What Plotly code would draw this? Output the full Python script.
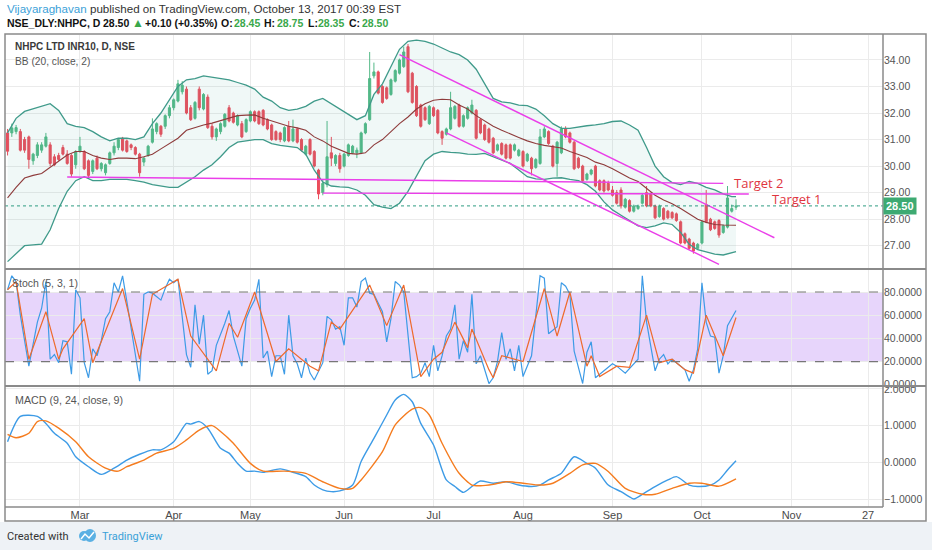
import plotly.graph_objects as go

# ---- data (x = trading-day index, 0 = 1 Mar 2017) ----
opens = [31.25, 31.25, 31.3, 31.3, 31.0, 31.1, 30.2, 30.4, 30.6, 30.75, 30.8, 30.35, 30.4, 30.7, 30.45, 30.4, 30.05,
         30.55, 30.55, 30.2, 29.8, 30.3, 29.9, 29.75, 30.1, 30.5, 30.7, 31.05, 30.95, 30.8, 30.7, 30.45, 30.15, 30.4,
         30.9, 31.3, 31.5, 31.5, 31.9, 32.2, 32.45, 32.8, 32.9, 32.2, 31.8, 32.9, 32.15, 32.6, 31.5, 31.1, 31.3, 31.5,
         32.2, 32.0, 31.55, 31.6, 31.3, 31.7, 32.05, 32.05, 32.1, 31.75, 31.55, 31.3, 31.25, 30.95, 31.5, 30.95, 31.4,
         31.0, 30.45, 31.0, 30.55, 29.85, 29.0, 29.3, 30.5, 30.1, 30.4, 30.0, 30.4, 30.5, 30.5, 30.5, 31.25, 31.75,
         33.4, 33.55, 33.0, 32.95, 32.7, 33.2, 33.5, 33.75, 34.5, 33.5, 33.0, 32.3, 32.2, 31.6, 32.2, 32.1, 31.3, 31.2,
         31.4, 31.8, 32.3, 31.5, 31.8, 32.0, 32.1, 31.75, 31.55, 31.4, 31.05, 30.6, 30.85, 30.8, 30.8, 30.6, 30.4,
         30.55, 30.2, 30.3, 29.95, 30.1, 31.1, 31.3, 30.75, 30.1, 30.5, 31.4, 31.25, 30.9, 30.3, 30.0, 29.5, 29.7,
         30.0, 29.45, 29.45, 29.35, 29.1, 29.0, 29.1, 28.45, 28.7, 28.3, 28.4, 28.6, 29.0, 28.95, 28.5, 28.1, 28.4,
         28.3, 28.25, 28.2, 27.9, 27.45, 27.25, 27.1, 26.9, 27.1, 28.55, 28.0, 27.9, 27.95, 27.5, 27.7, 28.3, 28.45]
highs = [31.4, 31.6, 31.55, 31.4, 31.1, 31.15, 30.5, 30.9, 30.9, 31.25, 30.9, 30.45, 30.5, 30.8, 30.6, 30.45, 30.6,
         31.1, 30.6, 30.25, 30.25, 30.4, 30.15, 30.1, 30.55, 30.9, 31.05, 31.1, 31.0, 30.85, 30.75, 30.5, 30.35, 30.8,
         31.8, 31.65, 31.55, 31.95, 32.3, 32.55, 33.25, 33.2, 33.0, 32.3, 32.45, 33.0, 32.75, 32.7, 31.6, 31.45, 31.65,
         32.0, 32.3, 32.05, 31.95, 31.7, 31.8, 32.1, 32.1, 32.1, 32.15, 31.8, 31.6, 31.35, 31.3, 31.5, 31.7, 31.75,
         31.45, 31.05, 30.8, 31.05, 30.6, 29.9, 29.5, 31.7, 31.1, 30.45, 30.5, 30.5, 30.85, 30.8, 30.7, 31.3, 31.65,
         34.3, 33.9, 33.6, 33.05, 33.0, 33.3, 33.65, 34.05, 34.5, 34.6, 33.55, 33.05, 32.35, 32.25, 32.3, 32.25, 32.15,
         31.35, 31.45, 32.8, 32.3, 32.35, 31.95, 32.25, 32.5, 32.15, 31.8, 31.6, 31.45, 31.1, 30.85, 30.9, 30.85,
         30.85, 30.85, 30.65, 30.6, 30.5, 30.35, 30.3, 31.4, 31.5, 31.35, 30.8, 30.95, 31.5, 31.5, 31.3, 30.95, 30.35,
         30.05, 29.75, 29.9, 30.05, 29.5, 29.5, 29.45, 29.25, 29.1, 29.2, 28.8, 28.75, 28.55, 28.55, 28.95, 29.25,
         29.0, 28.55, 28.55, 28.45, 28.35, 28.3, 28.25, 27.95, 27.5, 27.3, 27.15, 27.1, 27.95, 29.1, 28.05, 27.95,
         28.0, 27.8, 29.25, 28.55, 28.75]
lows = [30.4, 31.1, 31.2, 30.55, 30.5, 29.9, 30.05, 30.3, 30.5, 30.7, 30.0, 30.0, 30.2, 30.4, 30.05, 29.6, 29.9,
        30.5, 29.85, 29.55, 29.7, 29.85, 29.8, 29.65, 30.05, 30.4, 30.6, 30.55, 30.5, 30.6, 30.4, 29.6, 30.0, 30.35,
        30.85, 31.2, 31.1, 31.4, 31.8, 32.1, 32.4, 32.7, 31.95, 31.7, 31.75, 32.1, 32.1, 31.4, 31.0, 30.95, 31.2,
        31.45, 31.65, 31.6, 31.5, 31.05, 31.25, 31.65, 31.65, 31.55, 31.5, 31.35, 30.95, 30.95, 30.9, 30.9, 30.9,
        30.9, 30.85, 30.55, 30.4, 30.4, 29.95, 28.75, 28.9, 29.2, 30.0, 30.0, 29.75, 29.95, 30.35, 30.45, 30.3,
        30.45, 31.2, 31.7, 33.3, 32.7, 32.35, 32.5, 32.65, 33.15, 33.45, 33.7, 32.75, 32.35, 31.85, 31.45, 31.7,
        31.55, 31.85, 31.2, 30.8, 31.15, 31.35, 31.75, 31.45, 31.45, 31.75, 31.95, 31.0, 31.2, 30.95, 30.85, 30.45,
        30.55, 30.4, 30.25, 30.25, 30.55, 30.35, 29.95, 30.15, 29.65, 29.9, 30.05, 31.05, 30.8, 29.95, 29.6, 30.45,
        31.05, 30.85, 29.85, 29.9, 29.4, 29.45, 29.65, 29.2, 29.05, 29.0, 29.05, 28.85, 28.55, 28.4, 28.4, 28.25,
        28.25, 28.35, 28.55, 28.45, 28.45, 28.0, 28.05, 27.95, 28.0, 28.0, 27.9, 27.05, 27.05, 26.85, 26.7, 26.85,
        27.05, 27.85, 27.55, 27.6, 27.3, 27.45, 27.65, 28.25, 28.35]
closes = [30.56, 31.44, 31.45, 30.6, 30.6, 30.25, 30.45, 30.8, 30.8, 31.1, 30.1, 30.05, 30.25, 30.45, 30.1, 29.7,
          30.55, 30.75, 29.9, 29.65, 30.2, 29.9, 30.1, 30.05, 30.5, 30.75, 31.0, 30.6, 30.55, 30.7, 30.45, 29.75,
          30.3, 30.75, 31.4, 31.6, 31.2, 31.9, 32.2, 32.5, 33.1, 33.05, 32.0, 31.75, 32.4, 32.2, 32.7, 31.45, 31.1,
          31.4, 31.6, 31.95, 31.7, 31.65, 31.9, 31.1, 31.75, 32.05, 31.7, 31.6, 31.55, 31.4, 31.0, 31.0, 31.0, 31.45,
          30.95, 31.4, 30.9, 30.6, 30.75, 30.45, 30.0, 28.95, 29.35, 30.35, 30.3, 30.4, 29.9, 30.45, 30.8, 30.75,
          30.6, 31.25, 31.6, 33.3, 33.55, 32.75, 32.4, 32.55, 33.25, 33.6, 34.0, 34.3, 32.8, 32.4, 31.9, 31.5, 31.75,
          32.25, 31.9, 31.25, 31.05, 31.4, 32.2, 32.25, 31.5, 31.9, 32.2, 32.3, 31.05, 31.25, 31.0, 30.9, 30.5, 30.8,
          30.45, 30.3, 30.3, 30.8, 30.6, 30.0, 30.45, 29.9, 30.25, 31.1, 31.4, 30.85, 30.0, 30.9, 31.4, 31.1, 30.9,
          29.9, 29.95, 29.45, 29.7, 29.85, 29.25, 29.1, 29.06, 29.1, 28.9, 28.6, 28.5, 28.75, 28.3, 28.5, 28.5, 28.9,
          28.5, 28.5, 28.05, 28.5, 28.0, 28.05, 28.05, 27.95, 27.1, 27.1, 26.9, 26.8, 27.05, 27.9, 27.9, 27.6, 27.65,
          27.4, 27.75, 28.8, 28.4, 28.5]
bar_x = list(range(-17, -17 + len(closes)))

# Bollinger bands (20, close, 2)
bb_x = [-17, -15, -13, -11, -9, -7, -5, -3, -1, 1, 3, 5, 7, 9, 11, 13, 15, 17, 19, 21, 23, 25, 27, 29, 31, 33, 35,
        37, 39, 41, 43, 45, 47, 49, 51, 53, 55, 57, 59, 61, 63, 65, 67, 69, 71, 73, 75, 77, 79, 81, 83, 85, 87, 89,
        91, 93, 95, 97, 99, 101, 103, 105, 107, 109, 111, 113, 115, 117, 119, 121, 123, 125, 127, 129, 131, 133,
        135, 137, 139, 141, 143, 145, 147, 149, 151, 153, 154]
bb_upper = [31.25, 31.8, 32.06, 32.15, 32.25, 32.35, 32.1, 31.6, 31.5, 31.45, 31.3, 31.1, 30.95, 31.05, 31.05, 31.0,
            31.1, 31.6, 32.0, 32.5, 33.0, 33.25, 33.3, 33.4, 33.35, 33.3, 33.25, 33.15, 33.05, 32.9, 32.6, 32.45,
            32.2, 32.1, 32.15, 32.25, 32.45, 32.55, 32.35, 32.15, 31.95, 31.75, 31.9, 32.7, 33.1, 33.75, 34.4, 34.7,
            34.75, 34.7, 34.6, 34.45, 34.3, 34.2, 34.0, 33.65, 33.1, 32.55, 32.42, 32.38, 32.3, 32.28, 32.15, 31.9,
            31.6, 31.42, 31.42, 31.48, 31.52, 31.55, 31.6, 31.68, 31.7, 31.55, 31.35, 30.7, 30.0, 29.6, 29.38, 29.3,
            29.42, 29.35, 29.2, 29.1, 28.95, 28.85, 28.85]
bb_mid = [28.8, 29.2, 29.55, 29.65, 29.72, 29.95, 30.2, 30.42, 30.55, 30.55, 30.4, 30.3, 30.25, 30.3, 30.3, 30.28,
          30.35, 30.45, 30.65, 30.85, 31.05, 31.35, 31.45, 31.55, 31.62, 31.72, 31.82, 31.9, 31.92, 31.93, 31.8,
          31.7, 31.58, 31.5, 31.44, 31.35, 31.1, 30.95, 30.75, 30.6, 30.48, 30.45, 30.5, 30.8, 31.0, 31.3, 31.6,
          31.85, 32.15, 32.35, 32.48, 32.52, 32.5, 32.3, 32.15, 31.9, 31.7, 31.5, 31.35, 31.2, 31.08, 30.95, 30.85,
          30.78, 30.72, 30.68, 30.55, 30.42, 30.32, 30.15, 30.05, 29.9, 29.72, 29.55, 29.42, 29.15, 28.9, 28.72,
          28.58, 28.4, 28.2, 28.0, 27.88, 27.8, 27.78, 27.77, 27.77]
bb_lower = [26.4, 26.7, 27.0, 27.03, 27.06, 27.6, 28.4, 29.05, 29.45, 29.6, 29.45, 29.45, 29.5, 29.5, 29.5, 29.45,
            29.4, 29.3, 29.25, 29.2, 29.2, 29.4, 29.6, 29.85, 30.05, 30.35, 30.7, 30.9, 30.95, 31.0, 31.0, 30.85,
            30.78, 30.75, 30.7, 30.45, 29.85, 29.4, 29.25, 29.22, 29.2, 29.1, 28.9, 28.55, 28.45, 28.4, 28.6, 29.05,
            29.65, 30.2, 30.45, 30.55, 30.52, 30.5, 30.45, 30.44, 30.48, 30.35, 30.2, 30.1, 29.85, 29.6, 29.52, 29.5,
            29.55, 29.56, 29.5, 29.45, 29.3, 29.05, 28.65, 28.35, 28.15, 27.95, 27.75, 27.68, 27.75, 27.86, 27.8,
            27.5, 27.05, 26.85, 26.76, 26.68, 26.65, 26.75, 26.78]

# Stoch (5, 3, 1)
k_x = [-17, -16, -15, -14, -12, -10, -9, -8, -7, -6, -5, -4, -3, -2, -1, 0, 1, 2, 3, 4, 5, 6, 7, 8, 9, 10, 11, 12,
       14, 15, 16, 17, 19, 20, 21, 22, 23, 25, 26, 27, 28, 29, 30, 31, 32, 34, 35, 36, 38, 39, 40, 41, 42, 43, 44,
       45, 46, 47, 48, 49, 50, 51, 52, 53, 54, 55, 57, 58, 59, 60, 61, 62, 63, 64, 65, 66, 67, 68, 69, 71, 72, 73,
       74, 75, 76, 78, 79, 80, 81, 82, 83, 84, 85, 86, 87, 88, 89, 90, 91, 92, 93, 94, 96, 97, 98, 99, 100, 101,
       102, 103, 104, 106, 107, 108, 109, 110, 112, 113, 114, 115, 116, 118, 119, 120, 121, 122, 124, 125, 126,
       128, 131, 132, 133, 134, 135, 136, 137, 138, 139, 140, 142, 143, 144, 145, 146, 147, 148, 149, 150, 151,
       152, 154]
k_val = [82, 94, 89, 60, 16, 54, 66, 89, 22, 26, 19, 38, 37, 9, 82, 75, 19, 6, 31, 25, 38, 57, 63, 88, 80, 94, 72,
         48, 3, 78, 80, 79, 73, 83, 91, 88, 91, 26, 15, 69, 35, 60, 9, 12, 34, 53, 64, 42, 16, 57, 66, 73, 91, 23,
         29, 7, 25, 25, 9, 60, 25, 18, 6, 23, 10, 4, 19, 59, 56, 48, 50, 34, 75, 75, 67, 89, 92, 79, 78, 63, 37, 57,
         89, 86, 80, 6, 7, 10, 19, 7, 34, 12, 25, 42, 48, 69, 22, 38, 28, 78, 18, 25, 1, 6, 20, 45, 22, 31, 12, 34,
         7, 25, 60, 94, 92, 44, 50, 88, 85, 78, 29, 1, 28, 37, 6, 9, 15, 18, 16, 10, 22, 94, 54, 31, 12, 22, 26, 18,
         22, 19, 13, 3, 13, 31, 88, 54, 42, 41, 10, 25, 51, 64]
d_x = [-17, -15, -12, -8, -5, -4, 1, 3, 10, 14, 17, 23, 26, 32, 35, 37, 41, 46, 49, 54, 56, 59, 61, 68, 72, 76, 80,
       83, 85, 88, 91, 92, 96, 97, 99, 104, 109, 112, 115, 119, 120, 122, 126, 129, 133, 136, 139, 142, 144, 147,
       151, 154]
d_val = [82, 89, 22, 63, 22, 31, 57, 19, 83, 22, 78, 91, 42, 12, 53, 41, 80, 20, 31, 16, 12, 54, 48, 86, 51, 86, 7,
         22, 28, 54, 32, 48, 13, 6, 25, 20, 83, 42, 80, 16, 25, 7, 16, 15, 60, 19, 22, 13, 10, 60, 25, 58]

# MACD (9, 24, close, 9)
m_x = [-17, -14, -10, -8, -6, -3, -1, 2, 5, 8, 11, 14, 17, 19, 22, 25, 26, 28, 30, 33, 35, 37, 39, 41, 43, 47, 50,
       53, 55, 57, 59, 61, 64, 66, 69, 72, 74, 76, 78, 80, 83, 86, 88, 90, 92, 94, 97, 100, 103, 106, 108, 110,
       113, 116, 119, 121, 124, 127, 129, 130, 133, 135, 138, 140, 143, 145, 148, 150, 152, 154]
m_val = [0.56, 1.25, 1.25, 1.06, 0.79, 0.52, 0.15, -0.12, -0.33, -0.16, 0.06, 0.22, 0.34, 0.34, 0.56, 1.06, 1.04,
         1.11, 0.93, 0.38, 0.25, -0.03, -0.24, -0.24, -0.27, -0.18, -0.27, -0.39, -0.62, -0.75, -0.80, -0.78,
         -0.62, 0.02, 0.65, 1.29, 1.70, 1.85, 1.65, 1.06, 0.47, -0.48, -0.66, -0.82, -0.66, -0.51, -0.57, -0.53,
         -0.62, -0.66, -0.62, -0.48, -0.30, 0.15, -0.03, -0.16, -0.62, -0.80, -0.94, -1.0, -0.80, -0.66, -0.48,
         -0.39, -0.62, -0.66, -0.62, -0.48, -0.21, 0.04]
s_x = [-17, -15, -12, -10, -8, -5, -1, 2, 6, 9, 11, 15, 18, 22, 25, 28, 31, 33, 36, 40, 43, 48, 53, 57, 61, 64, 66,
       71, 74, 78, 80, 82, 85, 89, 92, 94, 97, 100, 104, 108, 111, 115, 118, 121, 124, 128, 132, 135, 139, 143,
       146, 150, 154]
s_val = [0.76, 0.67, 0.79, 1.11, 1.13, 0.93, 0.56, 0.15, -0.16, -0.24, -0.12, 0.06, 0.25, 0.38, 0.61, 0.88, 1.0,
         0.84, 0.52, -0.03, -0.24, -0.24, -0.30, -0.53, -0.71, -0.71, -0.48, 0.29, 1.02, 1.45, 1.49, 1.29, 0.52,
         -0.30, -0.62, -0.64, -0.60, -0.53, -0.57, -0.62, -0.57, -0.30, -0.07, -0.03, -0.25, -0.71, -0.87, -0.87,
         -0.71, -0.57, -0.57, -0.65, -0.45]

# drawings
support_hi_x, support_hi_y = [-3, 151], [29.59, 29.35]
support_lo_x, support_lo_y = [57, 157], [28.98, 28.95]
chan_top_x, chan_top_y = [75, 163], [34.2, 27.3]
chan_bot_x, chan_bot_y = [86, 150], [31.25, 26.3]
target_text = ["Target 2", "Target 1"]
target_x = [153, 162]
target_y = [29.38, 28.75]
last_price = 28.50

month_pos = [0, 22, 40, 62, 83, 104, 125, 146, 167, 185]
month_lbl = ["Mar", "Apr", "May", "Jun", "Jul", "Aug", "Sep", "Oct", "Nov", "27"]

# header quote line: (text, colour, size)
quote_parts = [("NSE_DLY:NHPC, D", "#111111", 10.5), ("28.50", "#111111", 10.5), ("▲", "#3aa84b", 12),
               ("+0.10 (+0.35%)", "#111111", 10.5), ("O:", "#111111", 10.5), ("28.45", "#3aa84b", 10.5),
               ("H:", "#111111", 10.5), ("28.75", "#3aa84b", 10.5), ("L:", "#111111", 10.5),
               ("28.35", "#3aa84b", 10.5), ("C:", "#111111", 10.5), ("28.50", "#3aa84b", 10.5)]
quote_left = [5, 101, 130, 143, 219, 232, 262, 275, 306, 316, 347, 360]

# ---- layout helpers (pixel -> paper) ----
def px(x):
    return (x - 5) / 878.0

def py(y):
    return (507 - y) / 472.0

FONT = "Liberation Sans, Arial, sans-serif"
GRID = "#ebebeb"
MAGENTA = "#ea3fe9"

fig = go.Figure()

# Bollinger bands
fig.add_trace(go.Scatter(x=bb_x, y=bb_upper, mode="lines", line=dict(color="#3f9a8a", width=1.3),
                         yaxis="y", hoverinfo="skip", showlegend=False))
fig.add_trace(go.Scatter(x=bb_x, y=bb_lower, mode="lines", line=dict(color="#3f9a8a", width=1.3),
                         fill="tonexty", fillcolor="rgba(60, 160, 150, 0.08)",
                         yaxis="y", hoverinfo="skip", showlegend=False))
fig.add_trace(go.Scatter(x=bb_x, y=bb_mid, mode="lines", line=dict(color="#8e3b3b", width=1.1),
                         yaxis="y", hoverinfo="skip", showlegend=False))

# candles
fig.add_trace(go.Candlestick(
    x=bar_x, open=opens, high=highs, low=lows, close=closes,
    increasing=dict(line=dict(color="#53b987", width=1), fillcolor="#53b987"),
    decreasing=dict(line=dict(color="#eb4d5c", width=1), fillcolor="#eb4d5c"),
    whiskerwidth=0, yaxis="y", hoverinfo="skip", showlegend=False))

# drawn lines
for lx, ly in [(support_hi_x, support_hi_y), (support_lo_x, support_lo_y),
               (chan_top_x, chan_top_y), (chan_bot_x, chan_bot_y)]:
    fig.add_trace(go.Scatter(x=lx, y=ly, mode="lines", line=dict(color=MAGENTA, width=1.4),
                             yaxis="y", hoverinfo="skip", showlegend=False))

# stochastic
fig.add_trace(go.Scatter(x=k_x, y=k_val, mode="lines", line=dict(color="#3d9be6", width=1.2),
                         yaxis="y2", hoverinfo="skip", showlegend=False))
fig.add_trace(go.Scatter(x=d_x, y=d_val, mode="lines", line=dict(color="#ee6a2c", width=1.2),
                         yaxis="y2", hoverinfo="skip", showlegend=False))

# MACD
fig.add_trace(go.Scatter(x=m_x, y=m_val, mode="lines", line=dict(color="#3d9be6", width=1.4, shape="spline", smoothing=0.7),
                         yaxis="y3", hoverinfo="skip", showlegend=False))
fig.add_trace(go.Scatter(x=s_x, y=s_val, mode="lines", line=dict(color="#f57c1f", width=1.4, shape="spline", smoothing=0.7),
                         yaxis="y3", hoverinfo="skip", showlegend=False))

shapes = []
# stoch band
shapes.append(dict(type="rect", xref="paper", yref="y2", x0=0, x1=1, y0=20, y1=80,
                   fillcolor="rgba(155, 80, 240, 0.24)", line=dict(width=0), layer="below"))
for lvl in [20, 80]:
    shapes.append(dict(type="line", xref="paper", yref="y2", x0=0, x1=1, y0=lvl, y1=lvl,
                       line=dict(color="#777777", width=1.2, dash="dash")))
# last price dotted line
shapes.append(dict(type="line", xref="paper", yref="y", x0=0, x1=1, y0=last_price, y1=last_price,
                   line=dict(color="#2e9c83", width=1, dash="dot")))
# footer background, frame, separators, axis lines
shapes.append(dict(type="rect", xref="paper", yref="paper", x0=px(0), x1=px(932), y0=py(550), y1=py(522),
                   fillcolor="#eef2f6", line=dict(width=0), layer="below"))
shapes.append(dict(type="rect", xref="paper", yref="paper", x0=px(5), x1=px(926), y0=py(521), y1=py(34),
                   line=dict(color="#8a8a8a", width=1.5)))
for sep in [269, 386]:
    shapes.append(dict(type="line", xref="paper", yref="paper", x0=px(5), x1=px(926), y0=py(sep), y1=py(sep),
                       line=dict(color="#8a8a8a", width=2)))
shapes.append(dict(type="line", xref="paper", yref="paper", x0=0, x1=1, y0=0, y1=0,
                   line=dict(color="#8a8a8a", width=1.5)))
shapes.append(dict(type="line", xref="paper", yref="paper", x0=1, x1=1, y0=0, y1=py(34),
                   line=dict(color="#8a8a8a", width=1.5)))
# logo in footer
shapes.append(dict(type="circle", xref="paper", yref="paper", x0=px(79), x1=px(89), y0=py(541), y1=py(531),
                   fillcolor="#5ab0e3", line=dict(width=0)))
shapes.append(dict(type="circle", xref="paper", yref="paper", x0=px(84), x1=px(96), y0=py(542), y1=py(529),
                   fillcolor="#5ab0e3", line=dict(width=0)))
shapes.append(dict(type="path", xref="paper", yref="paper",
                   path="M %f %f L %f %f L %f %f L %f %f" % (px(81), py(539), px(85), py(534), px(89), py(538), px(94), py(532)),
                   line=dict(color="white", width=1.5)))

annotations = []
annotations.append(dict(xref="paper", yref="paper", x=px(5), y=py(9), xanchor="left", yanchor="middle",
                        showarrow=False, font=dict(family=FONT, size=11.6, color="#333333"),
                        text="<span style='color:#3ba1d8'>Vijayaraghavan</span> published on TradingView.com, October 13, 2017 00:39 EST"))
for (txt, col, size), left in zip(quote_parts, quote_left):
    annotations.append(dict(xref="paper", yref="paper", x=px(left), y=py(23), xanchor="left", yanchor="middle",
                            showarrow=False, font=dict(family=FONT, size=size, color=col),
                            text="<b>%s</b>" % txt))
annotations.append(dict(xref="paper", yref="paper", x=px(13), y=py(46), xanchor="left", yanchor="middle",
                        showarrow=False, font=dict(family=FONT, size=10, color="#3a3a3a"),
                        text="<b>NHPC LTD INR10, D, NSE</b>"))
annotations.append(dict(xref="paper", yref="paper", x=px(13), y=py(62), xanchor="left", yanchor="middle",
                        showarrow=False, font=dict(family=FONT, size=10.2, color="#555555"),
                        text="BB (20, close, 2)"))
annotations.append(dict(xref="paper", yref="paper", x=px(10), y=py(283), xanchor="left", yanchor="middle",
                        showarrow=False, font=dict(family=FONT, size=10.5, color="#555555"),
                        text="Stoch (5, 3, 1)"))
annotations.append(dict(xref="paper", yref="paper", x=px(13), y=py(400), xanchor="left", yanchor="middle",
                        showarrow=False, font=dict(family=FONT, size=10.7, color="#555555"),
                        text="MACD (9, 24, close, 9)"))
for t, tx, ty in zip(target_text, target_x, target_y):
    annotations.append(dict(xref="x", yref="y", x=tx, y=ty, xanchor="left", yanchor="middle", showarrow=False,
                            font=dict(family="Open Sans, sans-serif", size=13, color="#e0353f"), text=t))
annotations.append(dict(xref="paper", yref="y", x=1, y=last_price, xanchor="left", yanchor="middle", showarrow=False,
                        bgcolor="#3daa72", borderpad=2, font=dict(family=FONT, size=11, color="white"),
                        text="<b>%.2f</b>" % last_price))
annotations.append(dict(xref="paper", yref="paper", x=px(5), y=py(536), xanchor="left", yanchor="middle",
                        showarrow=False, font=dict(family="Roboto, sans-serif", size=11, color="#333333"),
                        text="Created with"))
annotations.append(dict(xref="paper", yref="paper", x=px(100), y=py(536), xanchor="left", yanchor="middle",
                        showarrow=False, font=dict(family="Roboto, sans-serif", size=11, color="#3ba1d8"),
                        text="TradingView"))

axis_common = dict(showgrid=True, gridcolor=GRID, zeroline=False, showline=False, ticks="",
                   tickfont=dict(family=FONT, size=10.5, color="#555555"), side="right", anchor="x",
                   fixedrange=True)

fig.update_layout(
    width=932, height=550,
    margin=dict(l=5, r=49, t=35, b=43),
    paper_bgcolor="white", plot_bgcolor="white",
    showlegend=False,
    xaxis=dict(range=[-17.6, 188.5], anchor="y3", showgrid=True, gridcolor=GRID, zeroline=False,
               tickvals=month_pos, ticktext=month_lbl, ticks="", showline=False,
               tickfont=dict(family=FONT, size=11, color="#4a4a4a"), rangeslider=dict(visible=False)),
    yaxis=dict(domain=[py(268), 1], range=[26.16, 34.94], tickvals=[27, 28, 29, 30, 31, 32, 33, 34],
               tickformat=".2f", **axis_common),
    yaxis2=dict(domain=[py(385), py(270)], range=[-0.26, 99.0], tickvals=[0, 20, 40, 60, 80],
                tickformat=".4f", **axis_common),
    yaxis3=dict(domain=[0, py(387)], range=[-1.218, 2.052], tickvals=[-1, 0, 1, 2],
                tickformat=".4f", **axis_common),
    shapes=shapes,
    annotations=annotations,
)

fig.write_html("out.html", config={"displayModeBar": False},
               post_script="document.body.style.margin='0';document.body.style.overflow='hidden';")
